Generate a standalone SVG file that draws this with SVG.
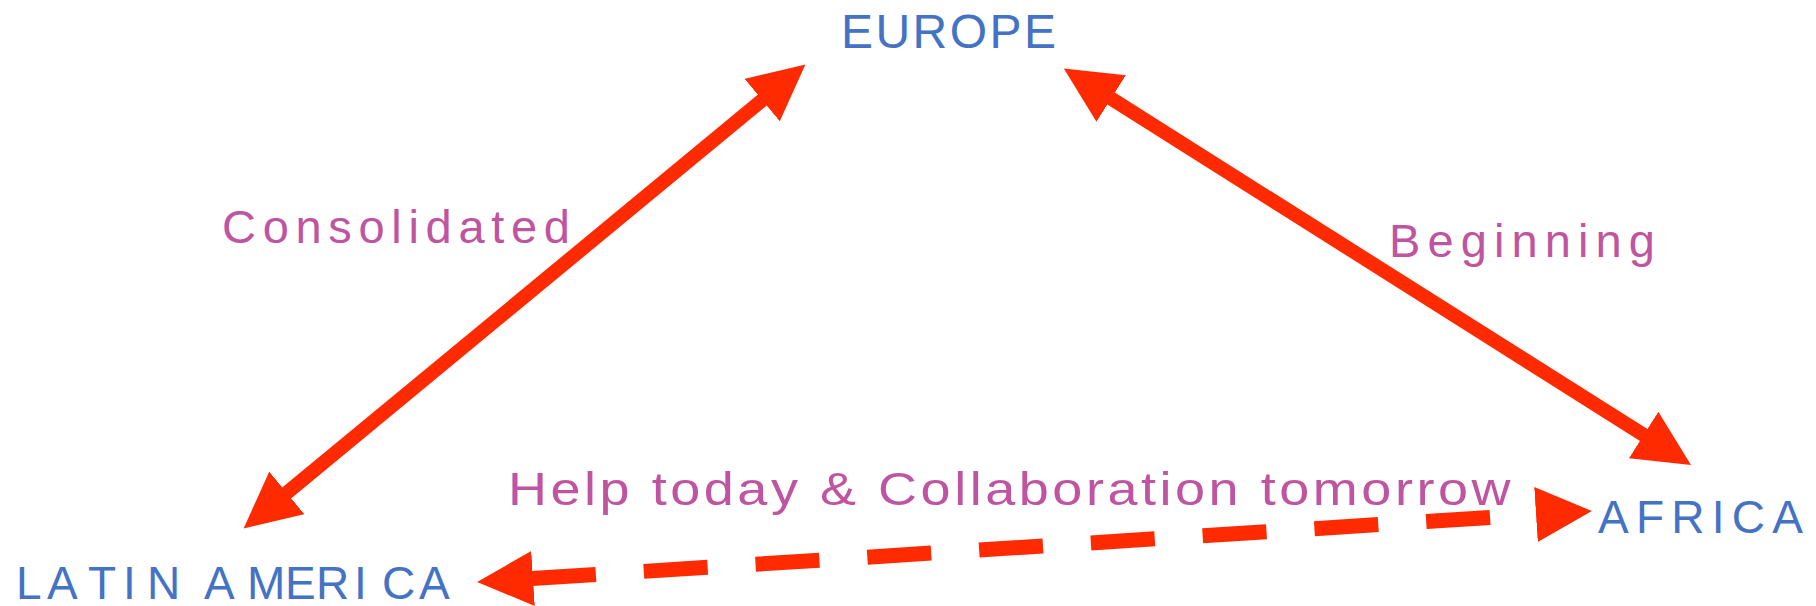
<svg xmlns="http://www.w3.org/2000/svg" width="1816" height="606" viewBox="0 0 1816 606">
  <style>
    .place { font-family: "Liberation Sans", Arial, sans-serif; fill: #4472C4; }
    .label { font-family: "Liberation Sans", Arial, sans-serif; fill: #BF55A0; }
    .link { stroke: #FF2A00; stroke-width: 14; fill: none; stroke-linecap: butt; marker-start: url(#head); marker-end: url(#head); }
    .dashed { stroke-dasharray: 64 48; stroke-width: 15; }
  </style>
  <defs>
    <marker id="head" viewBox="0 0 56 55" refX="1" refY="27.5" markerWidth="56" markerHeight="55" markerUnits="userSpaceOnUse" orient="auto-start-reverse">
      <path d="M0,0 L56,27.5 L0,55 z" fill="#FF2A00"/>
    </marker>
  </defs>
  <rect width="1816" height="606" fill="#ffffff"/>

  <g id="connectors">
    <line id="link-latam-europe" class="link" x1="286" y1="493.5" x2="763" y2="99.5"/>
    <line id="link-europe-africa" class="link" x1="1110.3" y1="98" x2="1644.5" y2="435.5"/>
    <line id="link-latam-africa" class="link dashed" x1="532" y1="578.5" x2="1537" y2="514.5"/>
  </g>

  <g id="node-europe">
    <text class="place" x="841" y="48" font-size="48" textLength="215" lengthAdjust="spacing">EUROPE</text>
  </g>
  <g id="node-latin-america">
    <text class="place" x="16 47 88 123 147 180 204 247 285 316 354 382 419" y="599" font-size="46">LATIN AMERICA</text>
  </g>
  <g id="node-africa">
    <text class="place" x="1598" y="533" font-size="46" textLength="205" lengthAdjust="spacing">AFRICA</text>
  </g>

  <g id="labels">
    <text class="label" x="222" y="243" font-size="47" textLength="348" lengthAdjust="spacing">Consolidated</text>
    <text class="label" x="1389" y="257" font-size="47" textLength="266" lengthAdjust="spacing">Beginning</text>
    <text class="label" x="508" y="505" font-size="46" letter-spacing="3" textLength="1006" lengthAdjust="spacingAndGlyphs">Help today &amp; Collaboration tomorrow</text>
  </g>
</svg>
